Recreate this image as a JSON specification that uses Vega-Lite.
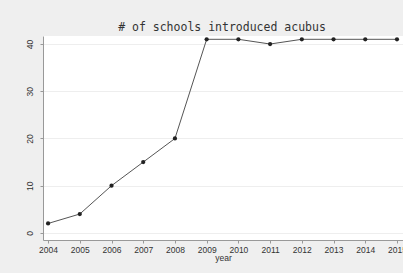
{
  "$schema": "https://vega.github.io/schema/vega-lite/v6.json",
  "autosize": "none",
  "width": 360,
  "height": 204,
  "padding": {"left": 43, "top": 36, "right": 0, "bottom": 33},
  "background": "#efefef",
  "title": {
    "text": "# of schools introduced acubus",
    "font": "DejaVu Sans Mono",
    "fontSize": 11.5,
    "fontWeight": "normal",
    "color": "#333333",
    "anchor": "middle",
    "offset": 3,
    "dx": -1
  },
  "config": {
    "view": {"fill": "white", "stroke": null},
    "axis": {
      "labelFont": "Liberation Sans",
      "labelFontSize": 8.5,
      "labelColor": "#333333",
      "titleFont": "Liberation Sans",
      "titleFontSize": 8.5,
      "titleFontWeight": "normal",
      "titleColor": "#333333",
      "domainColor": "#999999",
      "tickColor": "#999999",
      "tickSize": 3
    }
  },
  "data": {
    "values": [
      {"year": 2004, "n": 2},
      {"year": 2005, "n": 4},
      {"year": 2006, "n": 10},
      {"year": 2007, "n": 15},
      {"year": 2008, "n": 20},
      {"year": 2009, "n": 41},
      {"year": 2010, "n": 41},
      {"year": 2011, "n": 40},
      {"year": 2012, "n": 41},
      {"year": 2013, "n": 41},
      {"year": 2014, "n": 41},
      {"year": 2015, "n": 41}
    ]
  },
  "encoding": {
    "x": {
      "field": "year",
      "type": "quantitative",
      "scale": {"domain": [2003.84, 2015.19], "nice": false, "zero": false},
      "axis": {
        "values": [2004, 2005, 2006, 2007, 2008, 2009, 2010, 2011, 2012, 2013, 2014, 2015],
        "format": "d",
        "grid": false,
        "title": "year",
        "titlePadding": 0,
        "labelPadding": 2,
        "labelFlush": false
      }
    },
    "y": {
      "field": "n",
      "type": "quantitative",
      "scale": {"domain": [-1.5, 41.7], "nice": false, "zero": false},
      "axis": {
        "values": [0, 10, 20, 30, 40],
        "title": null,
        "grid": true,
        "gridColor": "#eeeeee",
        "labelAngle": -90,
        "labelAlign": "center",
        "labelBaseline": "bottom",
        "labelPadding": 6
      }
    }
  },
  "layer": [
    {"mark": {"type": "line", "color": "#555555", "strokeWidth": 1}},
    {"mark": {"type": "point", "filled": true, "color": "#222222", "size": 18, "opacity": 1}}
  ]
}
